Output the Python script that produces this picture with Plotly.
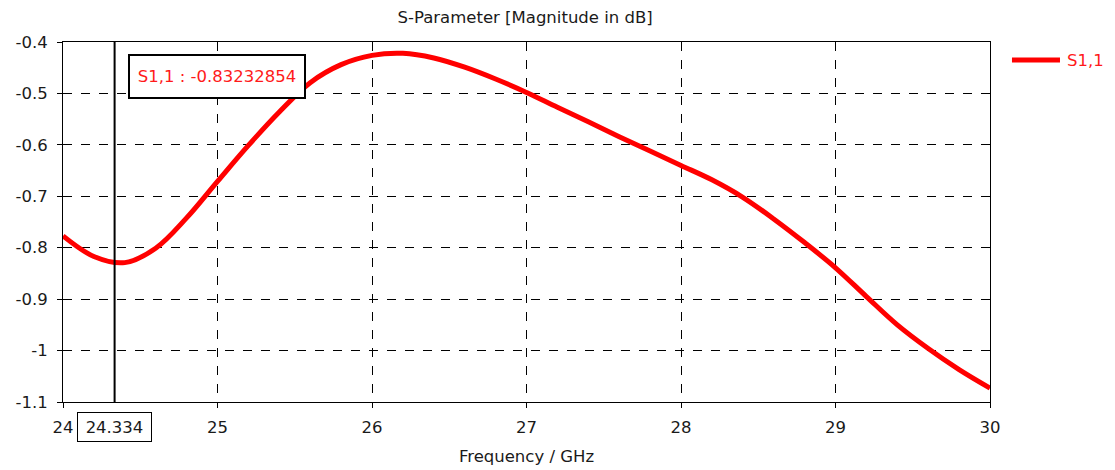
import plotly.graph_objects as go

# Data
freq_ghz = [24.0, 24.2, 24.4, 24.6, 24.8, 25.0, 25.2, 25.4, 25.6, 25.8,
            26.0, 26.2, 26.4, 26.6, 26.8, 27.0, 27.2, 27.4, 27.6, 27.8,
            28.0, 28.2, 28.4, 28.6, 28.8, 29.0, 29.2, 29.4, 29.6, 29.8, 30.0]
s11_db = [-0.777, -0.817, -0.829, -0.801, -0.742, -0.671, -0.601, -0.536, -0.479, -0.444,
          -0.426, -0.422, -0.431, -0.449, -0.472, -0.498, -0.527, -0.555, -0.584, -0.612,
          -0.640, -0.668, -0.702, -0.744, -0.790, -0.839, -0.895, -0.950, -0.996, -1.037, -1.073]

x_ticks = [24, 25, 26, 27, 28, 29, 30]
y_ticks = [-0.4, -0.5, -0.6, -0.7, -0.8, -0.9, -1.0, -1.1]
y_tick_text = ["-0.4", "-0.5", "-0.6", "-0.7", "-0.8", "-0.9", "-1", "-1.1"]

marker_freq = 24.334
marker_label = "24.334"
marker_text = "S1,1 : -0.83232854"
series_name = "S1,1"

FONT = "DejaVu Sans"
TXT = "#1a1a1a"
RED = "#ff0000"
RED_TXT = "#ff1a1a"
FS = 16.5

fig = go.Figure()
fig.add_trace(go.Scatter(
    x=freq_ghz, y=s11_db, mode="lines", name=series_name, showlegend=False,
    line=dict(color=RED, width=5, shape="spline", smoothing=1.0),
))

# marker vertical line
fig.add_shape(type="line", xref="x", yref="paper", x0=marker_freq, x1=marker_freq,
              y0=0, y1=1, line=dict(color="black", width=2), layer="above")

# marker value box
fig.add_annotation(xref="x", yref="paper", x=24.419, y=0.967, xanchor="left", yanchor="top",
                   text=marker_text, showarrow=False, width=166, height=33, align="center",
                   font=dict(family=FONT, size=FS, color=RED_TXT),
                   bgcolor="white", bordercolor="black", borderwidth=2, borderpad=4)

# marker frequency label on x axis
fig.add_annotation(xref="x", yref="paper", x=marker_freq, y=-0.028, xanchor="center", yanchor="top",
                   text=marker_label, showarrow=False, width=67, height=22, align="center",
                   font=dict(family=FONT, size=FS, color=TXT),
                   bgcolor="white", bordercolor="black", borderwidth=1, borderpad=3)

# legend (drawn by hand to match the long legend line)
fig.add_shape(type="line", xref="paper", yref="paper", x0=1.0237, x1=1.0755, y0=0.95, y1=0.95,
              line=dict(color=RED, width=5))
fig.add_annotation(xref="paper", yref="paper", x=1.081, y=0.95, xanchor="left", yanchor="middle",
                   text=series_name, showarrow=False,
                   font=dict(family=FONT, size=FS, color=RED_TXT))

axis_common = dict(
    showline=True, linecolor="black", linewidth=1, mirror=True,
    showgrid=True, gridcolor="black", gridwidth=1, griddash="dash",
    ticks="outside", ticklen=5, tickcolor="black", tickwidth=1,
    zeroline=False, automargin=False, tickfont=dict(family=FONT, size=FS, color=TXT),
)

fig.update_xaxes(range=[24, 30], tickvals=x_ticks, ticktext=[str(v) for v in x_ticks],
                 ticklabelstandoff=5,
                 title=dict(text="Frequency / GHz", font=dict(family=FONT, size=FS, color=TXT), standoff=14),
                 **axis_common)
fig.update_yaxes(range=[-1.1, -0.4], tickvals=y_ticks, ticktext=y_tick_text,
                 ticklabelstandoff=6, **axis_common)

fig.update_layout(
    width=1115, height=470,
    margin=dict(l=63, r=125, t=42, b=68),
    paper_bgcolor="white", plot_bgcolor="white",
    title=dict(text="S-Parameter [Magnitude in dB]", x=0.471, xanchor="center", y=0.963, yanchor="middle",
               font=dict(family=FONT, size=FS, color=TXT)),
    showlegend=False,
)

fig.write_html("out.html", config={"displayModeBar": False},
               post_script="document.body.style.margin='0';document.body.style.overflow='hidden';")
